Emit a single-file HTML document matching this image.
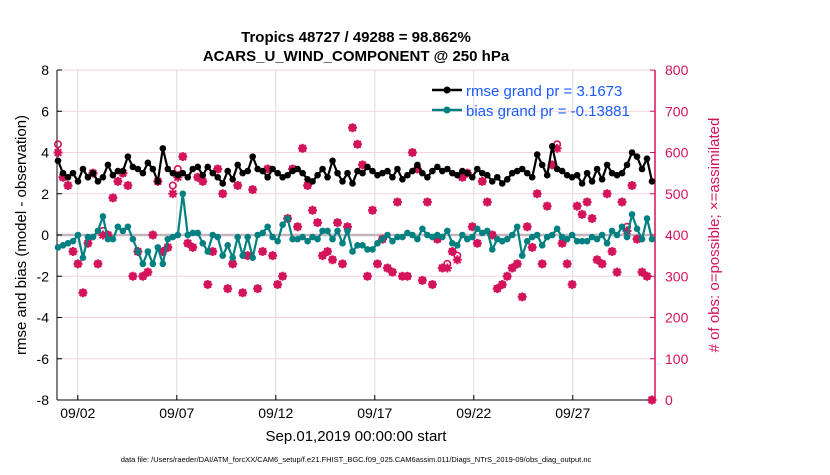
<!DOCTYPE html>
<html><head><meta charset="utf-8"><style>
body{margin:0;background:#fff;font-family:"Liberation Sans",sans-serif}
svg text{font-family:"Liberation Sans",sans-serif}
</style></head><body>
<svg id="chart" width="830" height="470" xmlns="http://www.w3.org/2000/svg">
<g id="grid"></g>
<g id="axes"></g>
<g id="marks"></g>
<text x="356" y="42" text-anchor="middle" font-size="15" font-weight="bold">Tropics 48727 / 49288 = 98.862%</text>
<text x="356" y="61" text-anchor="middle" font-size="15" font-weight="bold">ACARS_U_WIND_COMPONENT @ 250 hPa</text>
<text transform="translate(26,235) rotate(-90)" text-anchor="middle" font-size="15">rmse and bias (model - observation)</text>
<text transform="translate(719,235) rotate(-90)" text-anchor="middle" font-size="15" fill="#d4145a"># of obs: o=possible; ×=assimilated</text>
<text x="356" y="441" text-anchor="middle" font-size="15">Sep.01,2019 00:00:00 start</text>
<text x="356" y="462" text-anchor="middle" font-size="7.5">data file: /Users/raeder/DAI/ATM_forcXX/CAM6_setup/f.e21.FHIST_BGC.f09_025.CAM6assim.011/Diags_NTrS_2019-09/obs_diag_output.nc</text>
<g id="legend">
<line x1="432" y1="90" x2="462" y2="90" stroke="#000" stroke-width="2.5"/>
<circle cx="447" cy="90" r="3.5" fill="#000"/>
<text x="466" y="96" font-size="15" fill="#1a5cff">rmse grand pr = 3.1673</text>
<line x1="432" y1="110" x2="462" y2="110" stroke="#008080" stroke-width="2.5"/>
<circle cx="447" cy="110" r="3.5" fill="#008080"/>
<text x="466" y="116" font-size="15" fill="#1a5cff">bias grand pr = -0.13881</text>
</g>
</svg>
<script>
const xTickLabels=["09/02","09/07","09/12","09/17","09/22","09/27"];
const xTickDays=[1,6,11,16,21,26];
const yLeftTicks=[-8,-6,-4,-2,0,2,4,6,8];
const yRightTicks=[0,100,200,300,400,500,600,700,800];
const rmse=[3.6,3.0,2.8,3.0,2.6,3.2,2.8,3.0,2.6,2.8,3.4,2.9,3.1,3.1,3.8,3.3,3.2,3.0,3.5,3.2,2.6,4.2,3.2,3.0,2.9,3.0,2.8,3.2,3.3,2.9,3.3,3.0,
2.8,2.5,3.1,2.7,3.4,3.0,3.1,3.8,3.2,3.1,2.8,3.2,3.0,2.8,2.9,3.1,3.2,3.0,2.7,2.6,2.9,3.2,2.8,3.6,3.0,2.6,3.0,2.5,
3.1,3.0,3.3,3.1,2.9,3.0,3.1,2.8,3.2,2.7,2.9,3.1,3.4,3.0,2.8,3.1,3.3,3.1,3.2,3.0,2.9,3.1,3.0,2.8,3.2,3.0,2.9,2.6,
2.8,2.5,2.7,3.0,3.1,3.2,3.0,2.8,3.9,3.4,2.9,4.3,3.2,3.1,2.9,2.8,2.9,2.5,3.0,2.6,3.2,2.7,3.4,3.0,2.9,3.0,3.4,4.0,3.8,3.2,3.7,2.6];
const bias=[-0.6,-0.5,-0.4,-0.3,0.0,-1.1,-0.1,-0.1,0.2,0.9,-0.2,-0.2,0.4,0.2,0.4,-0.2,-0.8,-1.4,-0.8,-1.4,-0.6,-1.4,-0.2,-0.1,0.0,2.0,0.0,0.1,0.1,-0.4,-0.8,0.0,
-0.1,-1.0,-0.5,-1.1,-0.1,-1.0,-0.1,-1.1,0.0,0.1,0.4,-0.1,-0.3,0.5,0.8,-0.2,-0.2,-0.1,-0.3,-0.1,-0.2,0.2,0.2,-0.2,0.2,-0.4,0.2,-0.8,
-0.5,-0.5,-0.7,-0.7,-0.4,-0.2,0.0,-0.3,-0.1,-0.1,0.1,0.0,-0.2,0.3,0.0,-0.1,0.0,-0.1,0.2,-0.4,-0.5,0.0,-0.2,-0.1,0.3,0.1,0.2,-0.7,
-0.2,-0.3,-0.2,0.0,0.4,-1.0,-0.3,-0.1,0.0,-0.5,-0.1,0.0,0.3,-0.1,-0.2,0.0,-0.3,-0.3,-0.3,-0.1,-0.2,0.0,-0.4,0.2,0.0,0.4,-0.1,1.0,0.3,-0.2,0.8,-0.2];
const obsPossible=[620,540,520,360,330,260,380,550,330,410,400,490,530,550,520,300,360,300,310,400,530,360,370,520,560,590,380,370,540,530,280,360,
560,500,270,330,520,260,350,510,270,360,560,350,280,300,440,560,420,610,520,460,430,350,360,340,430,330,420,660,
620,570,300,460,330,390,320,310,480,300,300,600,560,290,480,280,390,320,330,360,350,540,550,420,380,530,480,400,
270,280,300,320,330,250,420,370,500,330,470,570,620,380,330,280,470,450,480,440,340,330,500,360,310,480,420,520,390,310,300,0];
const obsAssim=[600,540,520,360,330,260,380,550,330,400,400,490,530,550,520,300,360,300,310,400,530,360,370,500,540,590,380,370,540,530,280,360,
560,500,270,330,520,260,350,510,270,360,560,350,280,300,440,560,420,610,520,460,430,350,360,340,430,330,420,660,
620,570,300,460,330,390,320,310,480,300,300,600,560,290,480,280,390,320,320,360,340,540,550,420,380,530,480,400,
270,280,300,320,330,250,420,370,500,330,470,570,610,380,330,280,470,450,480,440,340,330,500,360,310,480,410,520,390,310,300,0];

const NS="http://www.w3.org/2000/svg";
const X0=58,PXD=19.8,YL0=235,PXU=20.625,YR0=400,PXO=0.4125,XL=57,XR=655,YT=70,YB=400;
const xs=d=>X0+d*PXD, yl=v=>YL0-v*PXU, yr=v=>YR0-v*PXO;
const PINK="#d4145a";
function mk(tag,attrs,parent){const e=document.createElementNS(NS,tag);for(const k in attrs)e.setAttribute(k,attrs[k]);parent.appendChild(e);return e;}
const grid=document.getElementById('grid'),axes=document.getElementById('axes'),marks=document.getElementById('marks');
yRightTicks.forEach(v=>{const l=mk('line',{x1:XL,x2:XR,y1:yr(v),y2:yr(v),stroke:'#f3d3df','stroke-width':1},grid);

});
xTickDays.forEach((d,i)=>{const l=mk('line',{x1:xs(d),x2:xs(d),y1:YT,y2:YB,stroke:'#dcdcdc','stroke-width':1},grid);


const t=mk('text',{x:xs(d),y:YB+18,'text-anchor':'middle','font-size':14},axes);t.textContent=xTickLabels[i];


const tk=mk('line',{x1:xs(d),x2:xs(d),y1:YB,y2:YB-5,stroke:'#000'},axes);

});
const zl=mk('line',{x1:XL,x2:XR,y1:yl(0),y2:yl(0),stroke:'#c4b4bc','stroke-width':2.5},grid);


const la=mk('line',{x1:XL,x2:XL,y1:YT,y2:YB,stroke:'#000'},axes);


const ra=mk('line',{x1:XR,x2:XR,y1:YT,y2:YB,stroke:PINK,'stroke-width':1.5},axes);


const ba=mk('line',{x1:XL,x2:XR,y1:YB,y2:YB,stroke:'#000'},axes);


yLeftTicks.forEach(v=>{const t=mk('text',{x:XL-8,y:yl(v)+5,'text-anchor':'end','font-size':14},axes);t.textContent=v;


const tk=mk('line',{x1:XL,x2:XL+5,y1:yl(v),y2:yl(v),stroke:'#000'},axes);

});
yRightTicks.forEach(v=>{const t=mk('text',{x:XR+10,y:yr(v)+5,'text-anchor':'start','font-size':14,fill:PINK},axes);t.textContent=v;


const tk=mk('line',{x1:XR-5,x2:XR,y1:yr(v),y2:yr(v),stroke:PINK},axes);

});
const nObs=obsPossible.length, obsStep=30/(nObs-1);
obsPossible.forEach((v,i)=>{const c=mk('circle',{cx:xs(i*obsStep),cy:yr(v),r:3.2,fill:'none',stroke:PINK,'stroke-width':1.6},marks);

});
obsAssim.forEach((v,i)=>{const x=xs(i*obsStep),y=yr(v);
const g=mk('path',{d:`M${x-4.5},${y}H${x+4.5}M${x},${y-4.5}V${y+4.5}M${x-3.3},${y-3.3}L${x+3.3},${y+3.3}M${x-3.3},${y+3.3}L${x+3.3},${y-3.3}`,stroke:PINK,'stroke-width':2},marks);


const c=mk('circle',{cx:x,cy:y,r:3.2,fill:PINK},marks);

});
function series(arr,color,name){
const step=30/(arr.length-1);
const p=mk('polyline',{points:arr.map((v,i)=>xs(i*step)+','+yl(v)).join(' '),fill:'none',stroke:color,'stroke-width':2.2},marks);


arr.forEach((v,i)=>{const c=mk('circle',{cx:xs(i*step),cy:yl(v),r:3.3,fill:color},marks);

});}
series(bias,'#008080','bias');
series(rmse,'#000000','rmse');
</script>
</body></html>
